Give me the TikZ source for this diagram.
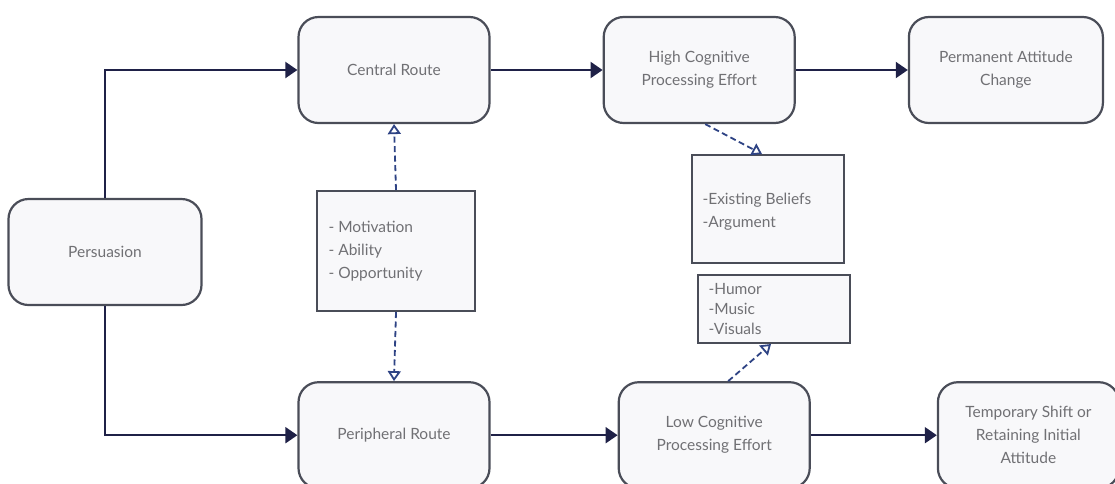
\documentclass[tikz,border=0pt]{standalone}
\usepackage{fontspec}
\setmainfont{Lato}
\usepackage{xcolor}
\usepackage{tikz}
\usetikzlibrary{arrows.meta,positioning}

\definecolor{boxline}{HTML}{4A4D58}
\definecolor{boxfill}{HTML}{F8F8FA}
\definecolor{textgrey}{HTML}{707074}
\definecolor{flowline}{HTML}{1F2147}
\definecolor{dashline}{HTML}{2E4384}

\begin{document}
\begin{tikzpicture}[
    x=1pt, y=-1pt,
    font=\fontsize{15.5}{23}\selectfont,
    text=textgrey,
    stage/.style={
        draw=boxline,
        line width=2.2pt,
        rounded corners=20pt,
        align=center,
        minimum width=191pt,
        minimum height=106pt,
        inner sep=6pt,
        fill=boxfill
    },
    factorbox/.style={
        draw=boxline,
        line width=2pt,
        align=left,
        inner sep=0pt,
        fill=boxfill
    },
    flow/.style={-{Triangle[length=12pt, width=16pt]}, line width=2pt, draw=flowline},
    influence/.style={-{Triangle[open, length=10pt, width=13pt, fill=white, line width=1.8pt]},
        line width=1.8pt, draw=dashline, dash pattern=on 6pt off 3.5pt}
]
\useasboundingbox (0,0) rectangle (1115,483);
\clip (0,0) rectangle (1115,483);

\node[stage, minimum width=193pt] (persuasion) at (105,252) {Persuasion};
\node[stage] (central) at (394,70) {Central Route};
\node[stage, right=112pt of central] (highcog) {High Cognitive\\Processing Effort};
\node[stage, minimum width=194pt, right=112pt of highcog] (permanent) {Permanent Attitude\\Change};

\node[stage, below=257pt of central] (peripheral) {Peripheral Route};
\node[stage, right=127pt of peripheral] (lowcog) {Low Cognitive\\Processing Effort};
\node[stage, minimum width=181pt, right=126pt of lowcog] (temporary) {Temporary Shift or\\Retaining Initial\\Attitude};

\node[factorbox, minimum width=158pt, minimum height=120pt] (factors) at (396,251) {};
\node[anchor=west, align=left] (factorstext) at ([xshift=9pt]factors.west) {- Motivation\\- Ability\\- Opportunity};

\node[factorbox, minimum width=152pt, minimum height=108pt] (beliefs) at (768,209) {};
\node[anchor=west, align=left] (beliefstext) at ([xshift=8pt, yshift=-3pt]beliefs.west) {-Existing Beliefs\\-Argument};

\node[factorbox, minimum width=152pt, minimum height=68pt] (cues) at (774,309) {};
\node[anchor=west, align=left, font=\fontsize{15.5}{20}\selectfont] (cuestext) at ([xshift=8pt]cues.west) {-Humor\\-Music\\-Visuals};

\draw[flow] (persuasion.north) |- (central.west);
\draw[flow] (persuasion.south) |- (peripheral.west);
\draw[flow] (central) -- (highcog);
\draw[flow] (highcog) -- (permanent);
\draw[flow] (peripheral) -- (lowcog);
\draw[flow] (lowcog) -- (temporary);

\draw[influence] (factors.north) -- (central.south);
\draw[influence] (factors.south) -- (peripheral.north);
\draw[influence] ([xshift=6pt]highcog.south) -- ([xshift=-6pt]beliefs.north);
\draw[influence] ([xshift=14pt]lowcog.north) -- ([xshift=-3pt]cues.south);
\end{tikzpicture}
\end{document}
